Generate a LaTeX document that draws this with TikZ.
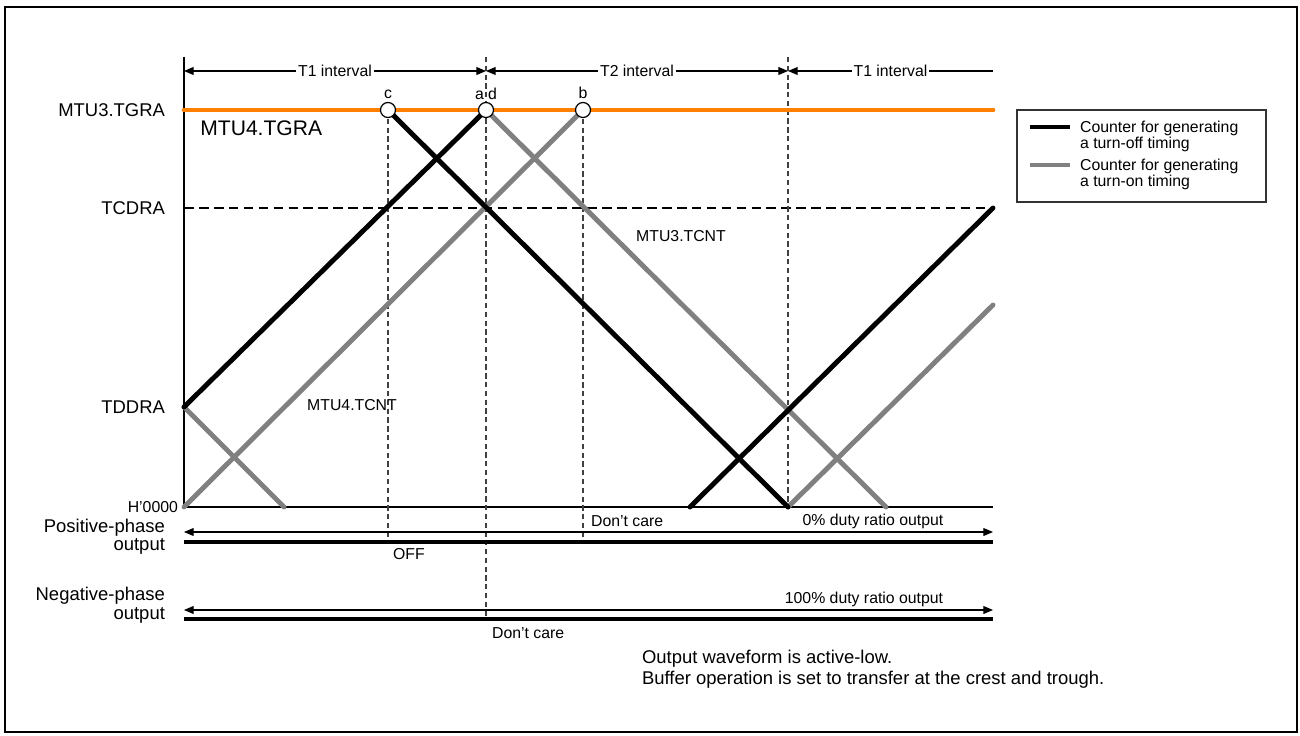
\documentclass[tikz,border=0pt]{standalone}
\usepackage{fontspec}
\setmainfont{Liberation Sans}
\usetikzlibrary{arrows.meta, positioning}
\definecolor{tgraorange}{HTML}{FF8000}
\definecolor{ongray}{HTML}{808080}
\tikzset{
  % Counter traces
  offcnt/.style={line width=2.8pt, draw=black, line cap=round},
  oncnt/.style={line width=2.8pt, draw=ongray, line cap=round},
  % Register level / guide lines
  tgraline/.style={line width=2.8pt, draw=tgraorange, line cap=round},
  levelguide/.style={line width=0.6pt, dash pattern=on 5.5pt off 3pt},
  timeguide/.style={line width=0.6pt, draw=black!75, dash pattern=on 3pt off 2pt},
  % Arrows
  spanarrow/.style={line width=0.6pt, {Triangle[length=5.5pt,width=4.5pt]}-{Triangle[length=5.5pt,width=4.5pt]}},
  leftarrow/.style={line width=0.6pt, {Triangle[length=5.5pt,width=4.5pt]}-},
  outline/.style={line width=1.9pt},
  % Marks and texts
  hitmark/.style={circle, draw=black, fill=white, line width=0.7pt, minimum size=0.3cm, inner sep=0pt},
  reglabel/.style={font=\fontsize{10.5}{10.5}\selectfont, inner sep=1pt},
  smalllabel/.style={font=\fontsize{9}{9}\selectfont, inner sep=1pt},
  spanlabel/.style={font=\fontsize{9}{9}\selectfont, fill=white, inner sep=1pt},
}

\begin{document}
\begin{tikzpicture}[x=0.02cm, y=-0.02cm]
  \useasboundingbox (0,0) rectangle (1300,736);
  \draw[line width=1.6pt] (5,7) rectangle (1297,732);

  % Axes
  \coordinate (ytop) at (184,57);
  \coordinate (orig) at (184,507);
  \coordinate (xend) at (993,507);
  \draw[line width=0.6pt] (ytop) -- (orig) -- (xend);

  % Levels
  \coordinate (tgraL) at (184,110);
  \coordinate (tgraR) at (993,110);
  \coordinate (tcdL) at (184,208);
  \coordinate (tcdR) at (993,208);
  \coordinate (tdd) at (184,407);
  \draw[levelguide] (tcdL) -- (tcdR);

  % Timing guides
  \coordinate (gc0) at (388,110);  \coordinate (gc1) at (388,542);
  \coordinate (ga0) at (486,57);   \coordinate (ga1) at (486,619);
  \coordinate (gb0) at (583,110);  \coordinate (gb1) at (583,542);
  \coordinate (gt0) at (788,57);   \coordinate (gt1) at (788,507);
  \draw[timeguide] (gc0) -- (gc1);
  \draw[timeguide] (ga0) -- (ga1);
  \draw[timeguide] (gb0) -- (gb1);
  \draw[timeguide] (gt0) -- (gt1);

  % Interval arrows
  \coordinate (iv0) at (184,71);
  \coordinate (iv1) at (486,71);
  \coordinate (iv2) at (788,71);
  \coordinate (iv3) at (993,71);
  \draw[spanarrow] (iv0) -- node[spanlabel] {T1 interval} (iv1);
  \draw[spanarrow] (iv1) -- node[spanlabel] {T2 interval} (iv2);
  \draw[leftarrow] (iv2) -- node[spanlabel] {T1 interval} (iv3);

  % Counter traces
  \coordinate (pa) at (486,110);
  \coordinate (pb) at (583,110);
  \coordinate (pc) at (388,110);
  \coordinate (z1) at (284,507);
  \coordinate (z2) at (690,507);
  \coordinate (z3) at (788,507);
  \coordinate (z4) at (886,507);
  \coordinate (endon) at (993,305);
  \draw[oncnt] (tdd) -- (z1);
  \draw[oncnt] (orig) -- (pb);
  \draw[oncnt] (pa) -- (z4);
  \draw[oncnt] (z3) -- (endon);
  \draw[offcnt] (tdd) -- (pa);
  \draw[offcnt] (pc) -- (z3);
  \draw[offcnt] (z2) -- (tcdR);

  \draw[tgraline] (tgraL) -- (tgraR);

  \node[hitmark] (mc) at (pc) {};
  \node[hitmark] (ma) at (pa) {};
  \node[hitmark] (mb) at (pb) {};
  \node[smalllabel, above=0.5pt of mc] {c};
  \node[smalllabel, above=0.5pt of mb] {b};
  \node[smalllabel, anchor=south east] at (ma.north) {a};
  \node[smalllabel, anchor=south west] at (ma.north) {d};

  % Register names
  \node[reglabel, anchor=east] (ltgra) at (167,110) {MTU3.TGRA};
  \node[reglabel, anchor=east] (ltcd) at (167,208) {TCDRA};
  \node[reglabel, anchor=east] (ltdd) at (167,407) {TDDRA};
  \node[smalllabel, anchor=east] (lzero) at (180,507) {H’0000};
  \node[font=\fontsize{12}{12}\selectfont, anchor=west, inner sep=0pt] (l4tgra) at (200,128) {MTU4.TGRA};
  \node[smalllabel] (l4cnt) at (352,405) {MTU4.TCNT};
  \node[smalllabel] (l3cnt) at (681,236) {MTU3.TCNT};

  % Outputs
  \coordinate (pos0) at (184,532);  \coordinate (pos1) at (993,532);
  \coordinate (posL) at (184,542);  \coordinate (posR) at (993,542);
  \coordinate (neg0) at (184,610);  \coordinate (neg1) at (993,610);
  \coordinate (negL) at (184,619);  \coordinate (negR) at (993,619);
  \draw[spanarrow] (pos0) -- (pos1);
  \draw[outline] (posL) -- (posR);
  \draw[spanarrow] (neg0) -- (neg1);
  \draw[outline] (negL) -- (negR);
  \node[smalllabel, anchor=west] (ldc1) at (589,521) {Don’t care};
  \node[smalllabel] (lzeroduty) at (873,521) {0\% duty ratio output};
  \node[smalllabel, anchor=west] (loff) at (391,554) {OFF};
  \node[smalllabel] (lfull) at (864,599) {100\% duty ratio output};
  \node[smalllabel, anchor=west] (ldc2) at (490,633) {Don’t care};
  \node[reglabel, anchor=east, align=right] (lpos) at (167,537) {Positive-phase\\output};
  \node[reglabel, anchor=east, align=right] (lneg) at (167,605) {Negative-phase\\output};

  % Legend
  \draw[line width=0.6pt, draw=black!80] (1017,110) rectangle (1266,202);
  \coordinate (lg0) at (1030,127);  \coordinate (lg1) at (1070,127);
  \coordinate (lg2) at (1030,165);  \coordinate (lg3) at (1070,165);
  \draw[offcnt, line cap=butt] (lg0) -- (lg1);
  \draw[oncnt, line cap=butt] (lg2) -- (lg3);
  \node[smalllabel, anchor=north west, align=left] (leg1) at (1078,119) {Counter for generating\\a turn-off timing};
  \node[smalllabel, anchor=north west, align=left] (leg2) at (1078,157) {Counter for generating\\a turn-on timing};

  % Notes
  \node[reglabel, anchor=north west, align=left, font=\fontsize{10.5}{12}\selectfont] (notes) at (640,648)
    {Output waveform is active-low.\\Buffer operation is set to transfer at the crest and trough.};
\end{tikzpicture}
\end{document}
